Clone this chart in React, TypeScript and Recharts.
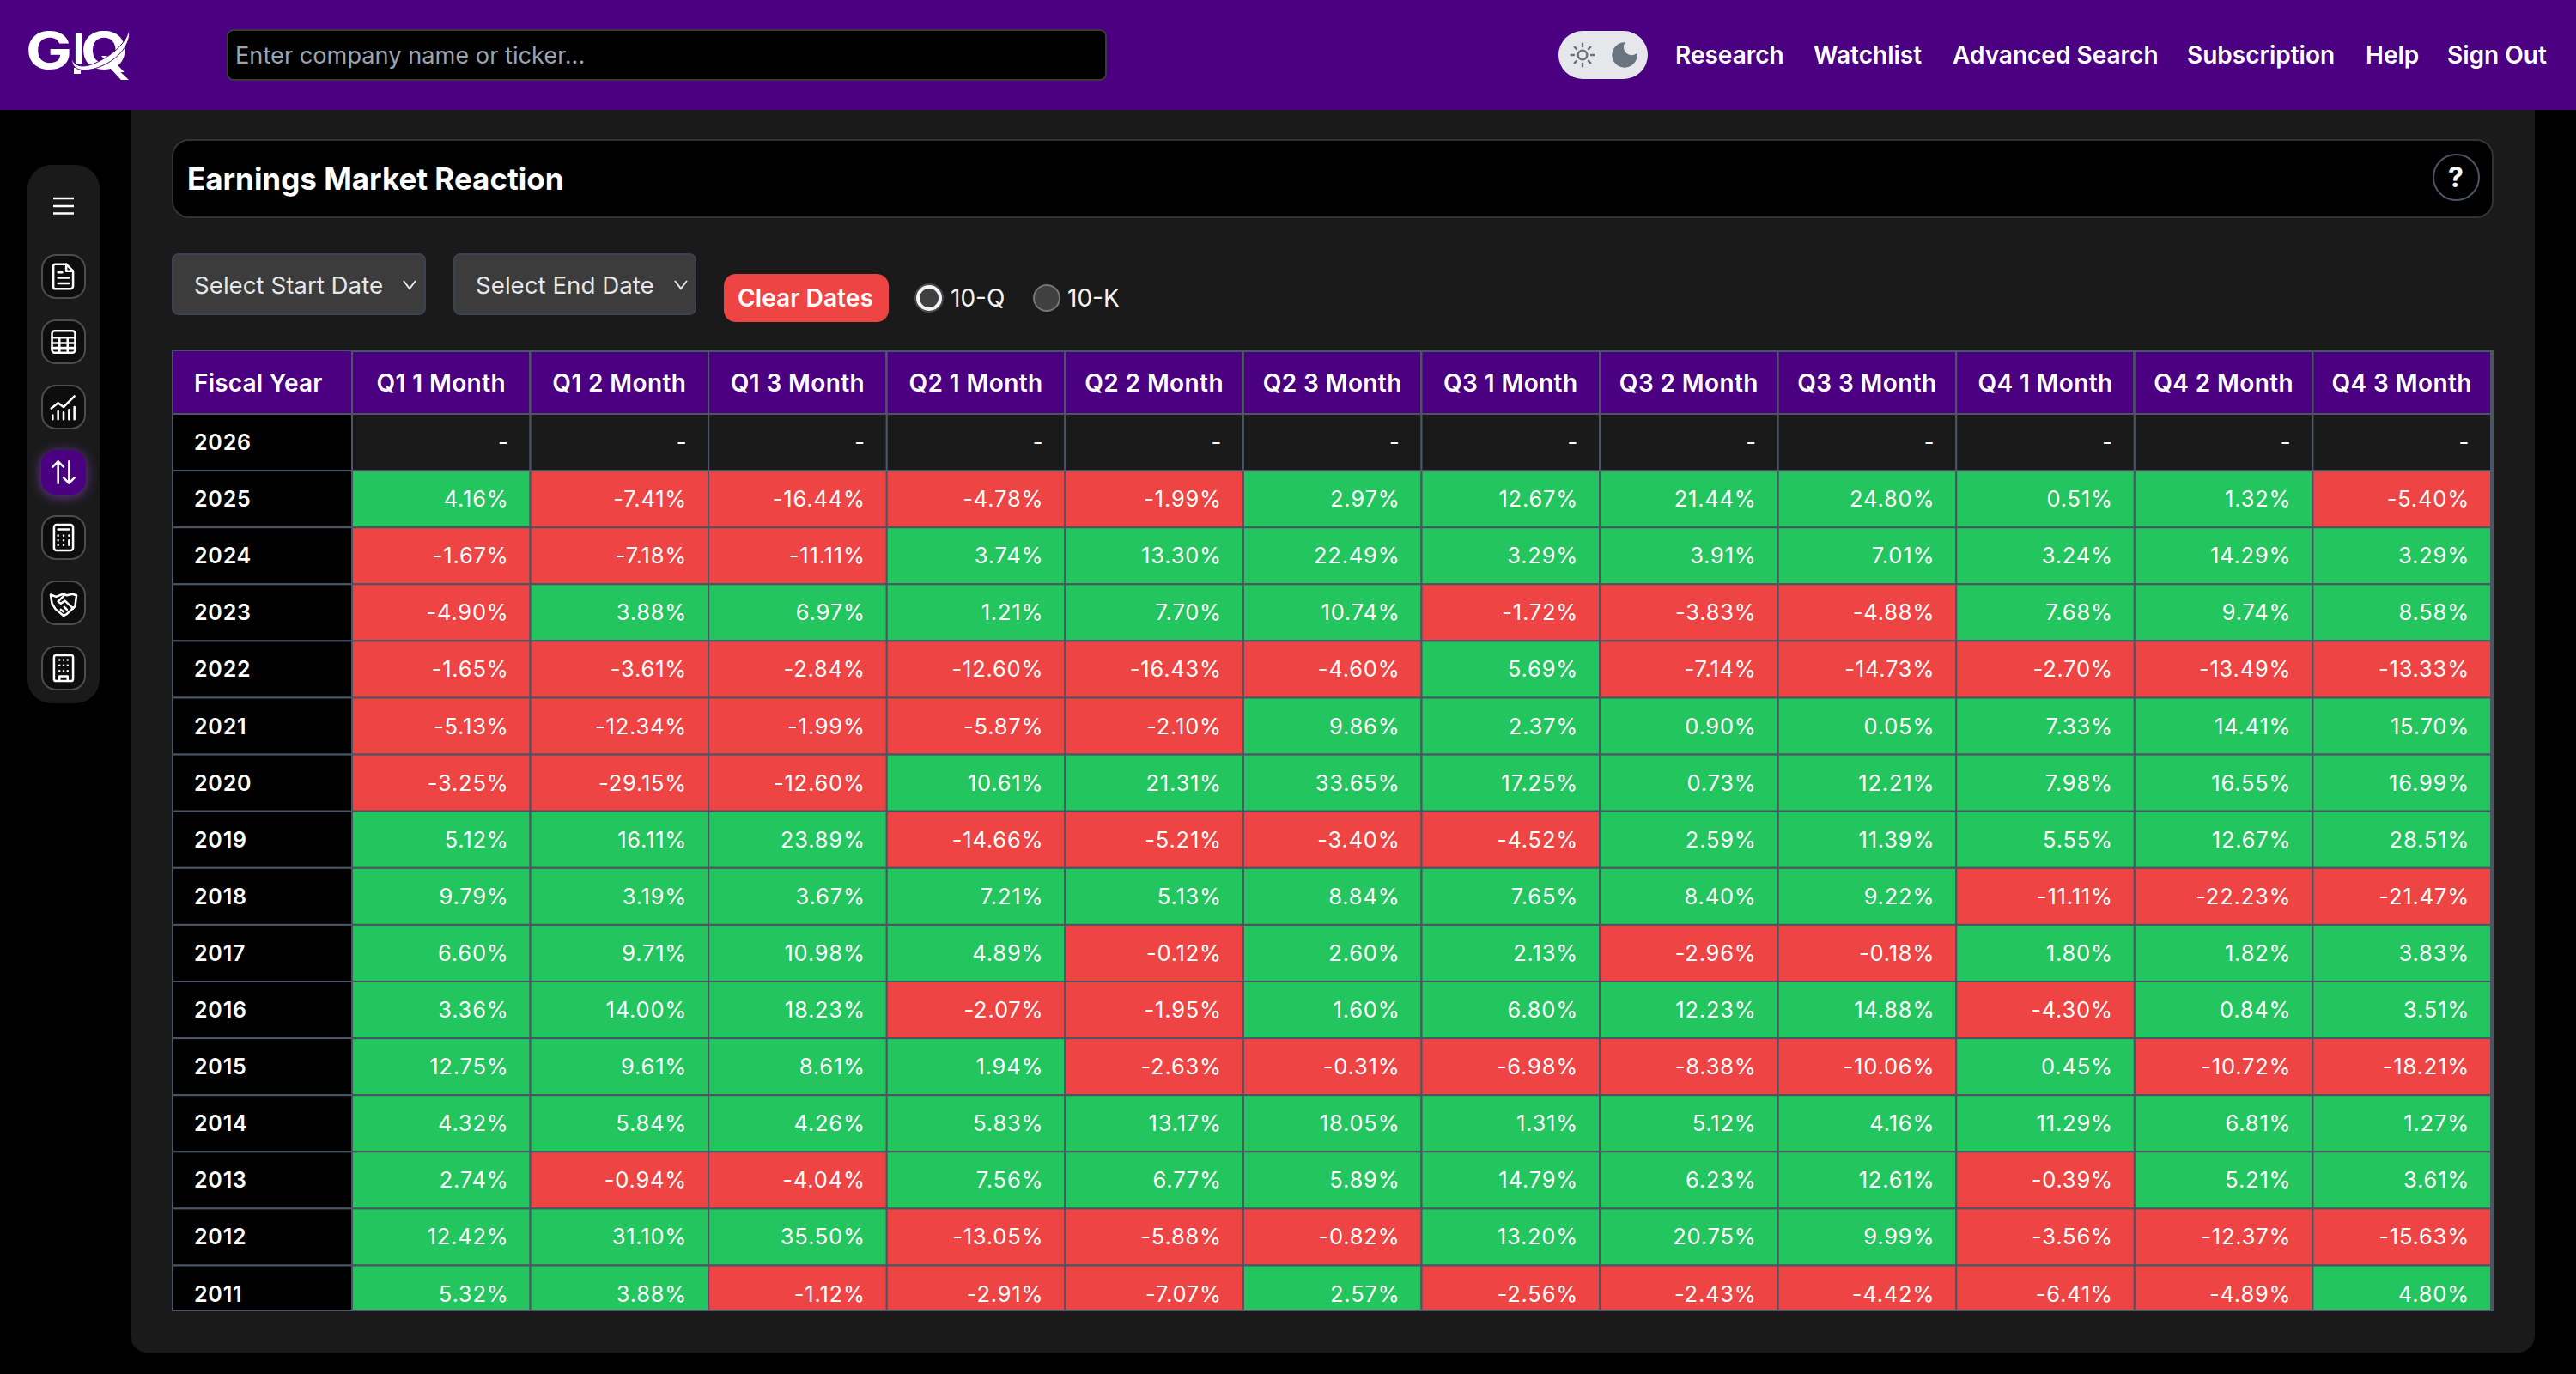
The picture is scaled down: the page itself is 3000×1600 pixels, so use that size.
import { ScatterChart, Scatter, XAxis, YAxis } from "recharts"

const years = ["2026", "2025", "2024", "2023", "2022", "2021", "2020", "2019", "2018", "2017", "2016", "2015", "2014", "2013", "2012", "2011"]
const periods = ["Q1 1 Month", "Q1 2 Month", "Q1 3 Month", "Q2 1 Month", "Q2 2 Month", "Q2 3 Month", "Q3 1 Month", "Q3 2 Month", "Q3 3 Month", "Q4 1 Month", "Q4 2 Month", "Q4 3 Month"]

const q1m1 = [null, 4.16, -1.67, -4.9, -1.65, -5.13, -3.25, 5.12, 9.79, 6.6, 3.36, 12.75, 4.32, 2.74, 12.42, 5.32]
const q1m2 = [null, -7.41, -7.18, 3.88, -3.61, -12.34, -29.15, 16.11, 3.19, 9.71, 14.0, 9.61, 5.84, -0.94, 31.1, 3.88]
const q1m3 = [null, -16.44, -11.11, 6.97, -2.84, -1.99, -12.6, 23.89, 3.67, 10.98, 18.23, 8.61, 4.26, -4.04, 35.5, -1.12]
const q2m1 = [null, -4.78, 3.74, 1.21, -12.6, -5.87, 10.61, -14.66, 7.21, 4.89, -2.07, 1.94, 5.83, 7.56, -13.05, -2.91]
const q2m2 = [null, -1.99, 13.3, 7.7, -16.43, -2.1, 21.31, -5.21, 5.13, -0.12, -1.95, -2.63, 13.17, 6.77, -5.88, -7.07]
const q2m3 = [null, 2.97, 22.49, 10.74, -4.6, 9.86, 33.65, -3.4, 8.84, 2.6, 1.6, -0.31, 18.05, 5.89, -0.82, 2.57]
const q3m1 = [null, 12.67, 3.29, -1.72, 5.69, 2.37, 17.25, -4.52, 7.65, 2.13, 6.8, -6.98, 1.31, 14.79, 13.2, -2.56]
const q3m2 = [null, 21.44, 3.91, -3.83, -7.14, 0.9, 0.73, 2.59, 8.4, -2.96, 12.23, -8.38, 5.12, 6.23, 20.75, -2.43]
const q3m3 = [null, 24.8, 7.01, -4.88, -14.73, 0.05, 12.21, 11.39, 9.22, -0.18, 14.88, -10.06, 4.16, 12.61, 9.99, -4.42]
const q4m1 = [null, 0.51, 3.24, 7.68, -2.7, 7.33, 7.98, 5.55, -11.11, 1.8, -4.3, 0.45, 11.29, -0.39, -3.56, -6.41]
const q4m2 = [null, 1.32, 14.29, 9.74, -13.49, 14.41, 16.55, 12.67, -22.23, 1.82, 0.84, -10.72, 6.81, 5.21, -12.37, -4.89]
const q4m3 = [null, -5.4, 3.29, 8.58, -13.33, 15.7, 16.99, 28.51, -21.47, 3.83, 3.51, -18.21, 1.27, 3.61, -15.63, 4.8]

const columns = [q1m1, q1m2, q1m3, q2m1, q2m2, q2m3, q3m1, q3m2, q3m3, q4m1, q4m2, q4m3]

const navLinks = [
  { label: "Research", x: 1951 },
  { label: "Watchlist", x: 2112 },
  { label: "Advanced Search", x: 2274 },
  { label: "Subscription", x: 2547 },
  { label: "Help", x: 2755 },
  { label: "Sign Out", x: 2850 },
]

const cells = periods.flatMap((period, c) =>
  years.map((year, r) => ({ period, year, value: columns[c][r] }))
)

const FONT = "Inter, sans-serif"
const PURPLE = "#4b0082"
const PANEL = "#1a1a1a"
const LINE = "#4b5563"
const GREEN = "#22c55e"
const RED = "#ef4444"

const CHART_W = 2704
const YEAR_W = 210
const HEAD_H = 75
const ROW_H = 66.1
const COL_W = (CHART_W - 3 - YEAR_W) / periods.length

function HeatCell(props: any) {
  const { cx, cy, payload } = props
  const v = payload.value
  const fill = v === null ? PANEL : v < 0 ? RED : GREEN
  return (
    <g>
      <rect x={cx - COL_W / 2} y={cy - ROW_H / 2} width={COL_W} height={ROW_H} fill={fill} stroke={LINE} strokeWidth={2} />
      <text x={cx + COL_W / 2 - 25} y={cy + 9} textAnchor="end" fill="#fff" fontSize={25.5} letterSpacing={0.8} fontFamily={FONT}>
        {v === null ? "-" : v.toFixed(2) + "%"}
      </text>
    </g>
  )
}

function HeaderTick(props: any) {
  const { x, payload } = props
  return (
    <g>
      <rect x={x - COL_W / 2} y={2} width={COL_W} height={HEAD_H - 2} fill={PURPLE} stroke={LINE} strokeWidth={2} />
      <text x={x} y={49} textAnchor="middle" fill="#fff" fontSize={28} fontWeight={600} letterSpacing={0.4} fontFamily={FONT}>
        {payload.value}
      </text>
    </g>
  )
}

function YearTick(props: any) {
  const { y, payload } = props
  return (
    <g>
      <rect x={1} y={y - ROW_H / 2} width={YEAR_W - 1} height={ROW_H} fill="#000" stroke={LINE} strokeWidth={2} />
      <text x={26} y={y + 9} fill="#fff" fontSize={25} fontWeight={600} letterSpacing={0.8} fontFamily={FONT}>
        {payload.value}
      </text>
    </g>
  )
}

function Box({ x, y, w, h, style, children }: any) {
  return (
    <div style={{ position: "absolute", left: x, top: y, width: w, height: h, boxSizing: "border-box", ...style }}>
      {children}
    </div>
  )
}

function Label({ x, cy, size = 27, weight = 400, color = "#fff", children }: any) {
  return (
    <div style={{ position: "absolute", left: x, top: cy - 30, height: 60, lineHeight: "60px", fontSize: size, fontWeight: weight, color, whiteSpace: "nowrap", fontFamily: FONT }}>
      {children}
    </div>
  )
}

function Icon({ children, size = 38 }: any) {
  return (
    <svg width={size} height={size} viewBox="0 0 24 24" fill="none" stroke="#fff" strokeWidth={1.6} strokeLinecap="round" strokeLinejoin="round">
      {children}
    </svg>
  )
}

const sideIcons = [
  <Icon>
    <path d="M6 3h8l5 5v11a2 2 0 0 1-2 2H6a1.5 1.5 0 0 1-1.5-1.5v-15A1.5 1.5 0 0 1 6 3z" />
    <path d="M14 3v5h5M8 9h3M8 13h8M8 17h8" />
  </Icon>,
  <Icon>
    <rect x="3.5" y="4" width="17" height="16" rx="2" />
    <path d="M3.5 9h17M3.5 13h17M3.5 16.5h17M9 9v11M15 9v11" />
  </Icon>,
  <Icon>
    <path d="M3 13l5-4 4 3 8-8M4 21v-3M8 21v-6M12 21v-5M16 21v-7M20 21v-9" />
  </Icon>,
  <Icon>
    <path d="M8 20V4M4 8l4-4 4 4M16 4v16M12 16l4 4 4-4" />
  </Icon>,
  <Icon>
    <rect x="5" y="2.5" width="14" height="19" rx="2" />
    <path d="M8 6h8M8 10.5h.01M12 10.5h.01M16 10.5h.01M8 14h.01M12 14h.01M8 17.5h.01M12 17.5h.01M16 14v3.5" />
  </Icon>,
  <Icon>
    <path d="M2.5 6l4 1.5 5-2 3 1 4-1 3 1-1 8-6.5 6-2 1-6-5-2.500-4z" />
    <path d="M12 7l-4 4 2 1.500 3-2 6 5.500M10 17l2 1.500M12.500 15l2 2" />
  </Icon>,
  <Icon>
    <rect x="5" y="2.500" width="14" height="19" rx="1.500" />
    <path d="M9 21.500v-3.500h6v3.500M9 6h.01M12 6h.01M15 6h.01M9 10h.01M12 10h.01M15 10h.01M9 14h.01M12 14h.01M15 14h.01" />
  </Icon>,
]

function Chrome() {
  return (
    <>
      <Box x={0} y={0} w={3000} h={128} style={{ background: PURPLE }} />
      <svg style={{ position: "absolute", left: 0, top: 0 }} width={200} height={128} fontFamily={FONT} fontWeight={700} fill="#fff">
        <text transform="translate(30 80) scale(1.22 1)" fontSize={59}>G</text>
        <text x={85} y={74} fontSize={48}>I</text>
        <rect x={86} y={79} width={8} height={7} />
        <text transform="translate(94 80) scale(1.2 1)" fontSize={59}>Q</text>
        <path d="M134 78l16 15h-9l-13-14z" />
        <path d="M84 68c2 10 14 12 30 4c18-9 33-22 36-37c4 14-12 34-32 42c-18 8-36 6-34-9z" stroke={PURPLE} strokeWidth={1} />
      </svg>
      <Box x={264} y={34} w={1025} h={60} style={{ background: "#000", border: "2px solid #3a3a3a", borderRadius: 8 }} />
      <Label x={274} cy={65} size={27.2} color="#9ca3af">Enter company name or ticker...</Label>
      <Box x={1815} y={36} w={104} h={56} style={{ background: "#e5e7eb", borderRadius: 28 }} />
      <svg style={{ position: "absolute", left: 1827, top: 48 }} width={32} height={32} viewBox="0 0 24 24" fill="none" stroke="#6b7280" strokeWidth={1.8} strokeLinecap="round">
        <circle cx="12" cy="12" r="4" />
        <path d="M12 2v2.500M12 19.500V22M2 12h2.500M19.500 12H22M5 5l1.800 1.800M17.200 17.200L19 19M5 19l1.800-1.800M17.200 6.800L19 5" />
      </svg>
      <svg style={{ position: "absolute", left: 1876, top: 48 }} width={32} height={32} viewBox="0 0 24 24" fill="#6b7280">
        <path d="M12 1a11 11 0 1 0 11 11c0-1-.1-1.300-.6-1.300a7 7 0 0 1-10.300-9.100C12.400 1.200 12.600 1 12 1z" />
      </svg>
      {navLinks.map((n) => (
        <Label key={n.label} x={n.x} cy={64} size={28} weight={600}>{n.label}</Label>
      ))}

      <Box x={152} y={128} w={2800} h={1447} style={{ background: PANEL, borderRadius: "0 0 20px 20px" }} />

      <Box x={32} y={192} w={84} h={627} style={{ background: PANEL, borderRadius: 28 }} />
      <svg style={{ position: "absolute", left: 62, top: 226 }} width={24} height={28} fill="none" stroke="#fff" strokeWidth={2.5}>
        <path d="M0 5h24M0 14h24M0 22.500h24" />
      </svg>
      {sideIcons.map((icon, i) => {
        const active = i === 3
        return (
          <Box
            key={i}
            x={48}
            y={296 + i * 76}
            w={52}
            h={52}
            style={{
              display: "flex",
              alignItems: "center",
              justifyContent: "center",
              background: active ? PURPLE : "#0d0d0d",
              border: active ? "none" : "2px solid #4d4d4d",
              borderRadius: 17,
              boxShadow: active ? "0 2px 14px rgba(140,70,200,0.75)" : "none",
            }}
          >
            {icon}
          </Box>
        )
      })}

      <Box x={200} y={162} w={2704} h={92} style={{ background: "#000", border: "2px solid #333", borderRadius: 20 }} />
      <Label x={218} cy={208} size={35} weight={700}>Earnings Market Reaction</Label>
      <Box x={2833} y={179} w={55} h={55} style={{ border: `2px solid ${LINE}`, borderRadius: "50%" }} />
      <Label x={2851} cy={207} size={32} weight={700}>?</Label>

      <Box x={200} y={295} w={296} h={72} style={{ background: "#3c3c3c", border: "2px solid #3b4250", borderRadius: 8 }} />
      <Label x={226} cy={332} size={27.7} color="#e5e7eb">Select Start Date</Label>
      <svg style={{ position: "absolute", left: 469, top: 326 }} width={16} height={12} fill="none" stroke="#e5e7eb" strokeWidth={2}>
        <path d="M1 1l7 9 7-9" />
      </svg>
      <Box x={528} y={295} w={283} h={72} style={{ background: "#3c3c3c", border: "2px solid #3b4250", borderRadius: 8 }} />
      <Label x={554} cy={332} size={27.7} color="#e5e7eb">Select End Date</Label>
      <svg style={{ position: "absolute", left: 785, top: 326 }} width={16} height={12} fill="none" stroke="#e5e7eb" strokeWidth={2}>
        <path d="M1 1l7 9 7-9" />
      </svg>
      <Box x={843} y={319} w={192} h={56} style={{ background: RED, borderRadius: 14 }} />
      <Label x={859} cy={347} size={28.2} weight={600}>Clear Dates</Label>

      <Box x={1066} y={331} w={32} h={32} style={{ background: "#404040", border: "5px solid #f3f4f6", outline: "2px solid #4a4a4a", outlineOffset: -1, borderRadius: "50%" }} />
      <Label x={1107} cy={347} size={28} color="#f3f4f6">10-Q</Label>
      <Box x={1203} y={331} w={32} h={32} style={{ background: "#404040", border: "2px solid #777", borderRadius: "50%" }} />
      <Label x={1243} cy={347} size={28} color="#f3f4f6">10-K</Label>
    </>
  )
}

export default function App() {
  return (
    <div style={{ position: "absolute", left: 0, top: 0, width: 3000, height: 1600, background: "#000", overflow: "hidden" }}>
      <Chrome />
      <div style={{ position: "absolute", left: 200, top: 407, width: CHART_W, height: 1120, overflow: "hidden" }}>
        <ScatterChart width={CHART_W} height={HEAD_H + years.length * ROW_H} margin={{ top: 0, right: 3, bottom: 0, left: 0 }}>
          <XAxis
            xAxisId={0}
            type="category"
            dataKey="period"
            orientation="top"
            scale="band"
            height={HEAD_H}
            allowDuplicatedCategory={false}
            axisLine={false}
            tickLine={false}
            interval={0}
            tick={HeaderTick}
          />
          <YAxis
            yAxisId={0}
            type="category"
            dataKey="year"
            scale="band"
            width={YEAR_W}
            reversed
            allowDuplicatedCategory={false}
            axisLine={false}
            tickLine={false}
            interval={0}
            tick={YearTick}
          />
          <Scatter data={cells} shape={HeatCell} isAnimationActive={false} />
          <g>
            <rect x={1} y={1} width={YEAR_W - 1} height={HEAD_H - 1} fill={PURPLE} stroke={LINE} strokeWidth={2} />
            <text x={26} y={49} fill="#fff" fontSize={28} fontWeight={600} letterSpacing={0.2} fontFamily={FONT}>Fiscal Year</text>
          </g>
        </ScatterChart>
        <div style={{ position: "absolute", inset: 0, border: `2px solid ${LINE}`, borderRightWidth: 4, pointerEvents: "none" }} />
      </div>
    </div>
  )
}
